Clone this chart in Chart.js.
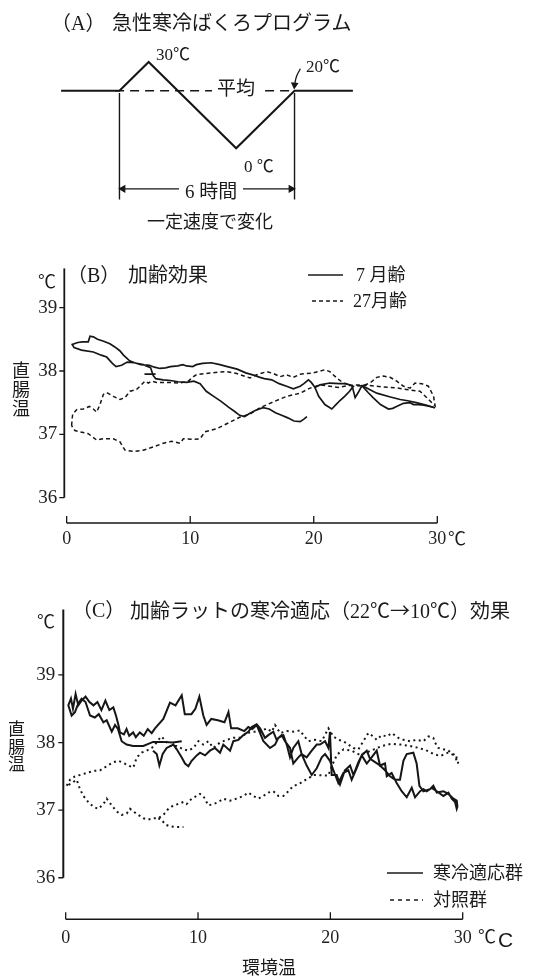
<!DOCTYPE html>
<html><head><meta charset="utf-8">
<script src="https://cdn.jsdelivr.net/npm/chart.js@4.4.1/dist/chart.umd.min.js"></script>
<style>
html,body{margin:0;padding:0;background:#fff;}
#page{position:relative;width:552px;height:976px;overflow:hidden;background:#fff;font-family:"Liberation Serif","Noto Sans CJK JP",serif;color:#1a1a1a;}
canvas{position:absolute;left:0;}
.t{position:absolute;white-space:nowrap;line-height:1;}
.j{font-family:"Noto Sans CJK JP",sans-serif;}
.bg{background:#fff;}
svg{position:absolute;}
</style></head><body><div id="page">
<canvas id="ca" width="552" height="240" style="top:0px"></canvas>
<canvas id="cb" width="552" height="320" style="top:250px"></canvas>
<canvas id="cc" width="552" height="386" style="top:590px"></canvas>

<!-- Panel A texts -->
<div class="t" style="left:51px;top:13px;font-size:20px">（A）</div>
<div class="t" style="left:112px;top:13px;font-size:20px">急性寒冷ばくろプログラム</div>
<div class="t" style="left:156px;top:44px;font-size:17px">30<span class="j">℃</span></div>
<div class="t" style="left:306px;top:56px;font-size:17px">20<span class="j">℃</span></div>
<div class="t" style="left:244px;top:156px;font-size:17px">0 <span class="j">℃</span></div>
<div class="t bg" style="left:212px;top:79px;font-size:19px;padding:0 5px">平均</div>
<div class="t bg" style="left:179px;top:182px;font-size:19px;padding:0 6px">6 時間</div>
<div class="t" style="left:147px;top:213px;font-size:18px">一定速度で変化</div>

<!-- Panel B texts -->
<div class="t" style="left:67px;top:265px;font-size:20px">（B）</div>
<div class="t" style="left:128px;top:265px;font-size:20px">加齢効果</div>
<div class="t j" style="left:38px;top:271px;font-size:18px">℃</div>
<div class="t" style="left:12px;top:362px;font-size:18px;line-height:18.75px">直<br>腸<br>温</div>
<svg style="left:300px;top:265px" width="50" height="45"><line x1="8" y1="10" x2="43" y2="10" stroke="#1a1a1a" stroke-width="1.5"/><line x1="12" y1="36" x2="43" y2="36" stroke="#1a1a1a" stroke-width="1.5" stroke-dasharray="4,3"/></svg>
<div class="t" style="left:356px;top:266px;font-size:18px">7 月齢</div>
<div class="t" style="left:353px;top:292px;font-size:18px">27月齢</div>
<div class="t j" style="left:448px;top:528px;font-size:18px">℃</div>

<!-- Panel C texts -->
<div class="t" style="left:72px;top:600px;font-size:20px">（C）</div>
<div class="t" style="left:130px;top:600px;font-size:20px">加齢ラットの寒冷適応（22<span class="j">℃→</span>10<span class="j">℃</span>）効果</div>
<div class="t j" style="left:37px;top:611px;font-size:18px">℃</div>
<div class="t" style="left:8px;top:721px;font-size:17px;line-height:17.5px">直<br>腸<br>温</div>
<svg style="left:380px;top:863px" width="50" height="45"><line x1="7" y1="10" x2="43" y2="10" stroke="#1a1a1a" stroke-width="1.5"/><line x1="10" y1="37" x2="43" y2="37" stroke="#1a1a1a" stroke-width="1.5" stroke-dasharray="4,4"/></svg>
<div class="t" style="left:433px;top:864px;font-size:18px">寒冷適応群</div>
<div class="t" style="left:433px;top:891px;font-size:18px">対照群</div>
<div class="t j" style="left:478px;top:926px;font-size:18px">℃</div>
<div class="t" style="left:498px;top:929px;font-size:21px;font-family:'Liberation Sans',sans-serif">C</div>
<div class="t" style="left:242px;top:959px;font-size:18px">環境温</div>
</div>
<script>
// ---------------- DATA ----------------
// Panel A: exposure program (hours, ambient temperature)
const progHours = [-2, 0, 1, 4, 6, 8];
const progTemp  = [20, 20, 30, 0, 20, 20];
const meanTemp = 20;
const exposureHours = [0, 6];

// Panel B: rectal temperature vs ambient temperature
const bXTicks = [0, 10, 20, 30];
const bYTicks = [36, 37, 38, 39];
const bYoungMain = [[29.8,37.42],[29.15,37.46],[28.3,37.5],[27.6,37.53],[27.0,37.55],[26.2,37.59],[25.1,37.65],[24.4,37.72],[23.9,37.77],[23.6,37.66],[23.35,37.58],[23.1,37.77],[22.6,37.8],[22.1,37.8],[21.3,37.81],[20.5,37.78],[20.1,37.74],[19.8,37.82],[19.57,37.86],[19.2,37.8],[18.9,37.76],[18.35,37.72],[17.8,37.76],[17.2,37.8],[16.6,37.86],[16.0,37.88],[15.65,37.9],[15.2,37.93],[14.5,37.97],[13.8,38.03],[13.0,38.07],[12.4,38.1],[11.7,38.13],[11.0,38.12],[10.5,38.1],[10.2,38.07],[9.7,38.08],[9.4,38.1],[9.0,38.08],[8.4,38.07],[8.0,38.05],[7.55,38.04],[7.1,38.06],[6.7,38.09],[6.0,38.1],[5.5,38.13],[5.1,38.16],[4.6,38.25],[4.3,38.32],[3.9,38.38],[3.5,38.43],[3.0,38.47],[2.5,38.5],[2.16,38.54],[1.89,38.55],[1.75,38.46],[1.3,38.46],[0.9,38.45],[0.45,38.42],[0.6,38.37],[1.2,38.33],[2.16,38.3],[2.8,38.25],[3.24,38.22],[3.7,38.12],[4.0,38.07],[4.45,38.09],[4.9,38.14],[5.45,38.13],[6.2,38.1],[6.8,38.05],[7.0,37.93],[7.2,37.88],[7.8,37.86],[8.4,37.85],[9.0,37.83],[9.7,37.82],[10.3,37.84],[10.8,37.8],[11.3,37.68],[11.9,37.6],[12.5,37.52],[13.1,37.43],[13.6,37.36],[14.0,37.3],[14.4,37.28],[14.8,37.33],[15.3,37.38],[15.9,37.42],[16.4,37.4],[16.9,37.34],[17.4,37.3],[17.9,37.26],[18.4,37.21],[18.9,37.2],[19.2,37.24],[19.45,37.28]];
const bYoungStub = [[6.3,37.95],[7.2,37.95]];
const bYoungRightA = [[20.1,37.74],[20.4,37.6],[20.9,37.47],[21.46,37.4],[21.8,37.47],[22.1,37.53],[22.5,37.6],[22.9,37.68],[23.2,37.76]];
const bYoungRightB = [[23.9,37.77],[24.4,37.66],[24.8,37.58],[25.4,37.47],[26.05,37.4],[26.4,37.41],[26.7,37.44],[27.26,37.49],[27.8,37.5],[28.07,37.47],[28.5,37.47],[28.9,37.46],[29.4,37.44],[29.8,37.42]];
const bOld = [[0.4,37.14],[0.45,37.25],[0.49,37.32],[0.81,37.39],[1.35,37.4],[1.84,37.44],[2.16,37.4],[2.43,37.35],[2.7,37.47],[2.97,37.63],[3.24,37.66],[3.78,37.6],[4.32,37.55],[4.72,37.58],[5.13,37.68],[5.67,37.71],[5.94,37.76],[6.34,37.84],[6.61,37.81],[6.88,37.84],[7.29,37.82],[8.1,37.82],[9.18,37.81],[9.85,37.84],[10.26,37.91],[10.5,37.94],[11.6,37.97],[12.96,37.99],[13.77,37.96],[14.84,37.89],[15.38,37.94],[16.2,37.99],[16.73,37.96],[17.27,37.91],[17.8,37.94],[18.35,37.9],[18.9,37.95],[19.97,37.97],[20.9,38.02],[21.3,37.99],[21.86,37.89],[22.4,37.81],[23.2,37.76],[24.0,37.77],[24.56,37.81],[25.1,37.9],[25.64,37.92],[26.18,37.9],[26.72,37.84],[27.26,37.76],[27.8,37.73],[28.2,37.81],[28.74,37.8],[29.28,37.76],[29.7,37.6],[29.82,37.45],[29.3,37.55],[28.6,37.68],[27.8,37.7],[26.8,37.73],[25.6,37.75],[24.5,37.77],[23.6,37.78],[22.8,37.77],[22.0,37.74],[21.3,37.76],[20.5,37.78],[19.7,37.73],[18.9,37.65],[17.8,37.6],[16.7,37.51],[15.65,37.42],[14.84,37.32],[14.0,37.27],[13.2,37.19],[12.15,37.09],[11.2,37.04],[10.8,36.93],[10.26,36.92],[9.45,36.93],[9.18,36.86],[8.5,36.89],[7.83,36.86],[7.0,36.8],[6.2,36.75],[5.4,36.73],[4.72,36.75],[4.32,36.88],[3.78,36.93],[2.97,36.93],[2.43,36.91],[1.75,37.01],[1.08,37.04],[0.67,37.06],[0.4,37.14]];

// Panel C: cold-acclimated vs control aged rats
const cXTicks = [0, 10, 20, 30];
const cYTicks = [36, 37, 38, 39];
const cAdapted = [[6.6,37.88],[6.88,37.83],[7.08,37.66],[7.33,37.83],[7.63,37.92],[8.14,37.97],[8.39,37.9],[8.77,37.78],[9.02,37.69],[9.27,37.65],[9.52,37.73],[9.9,37.81],[10.15,37.85],[10.53,37.81],[10.9,37.88],[11.28,37.92],[11.66,37.85],[11.91,37.97],[12.42,37.88],[12.67,38.02],[13.05,38.04],[13.43,38.11],[13.8,38.16],[14.06,38.23],[14.43,38.27],[14.69,38.21],[15.06,38.07],[15.31,38.11],[15.69,38.16],[15.94,38.04],[16.32,38.11],[16.57,38.02],[16.95,37.92],[17.2,37.69],[17.58,37.78],[17.83,37.83],[18.21,37.66],[18.59,37.52],[18.97,37.62],[19.35,37.78],[19.6,37.83],[19.97,37.73],[20.23,37.59],[20.6,37.4],[20.98,37.55],[21.36,37.59],[21.61,37.45],[21.99,37.62],[22.37,37.81],[22.75,37.88],[23.0,37.76],[23.38,37.71],[23.75,37.66],[24.13,37.59],[24.51,37.5],[24.89,37.45],[25.26,37.45],[25.52,37.73],[25.77,37.83],[26.27,37.85],[26.52,37.69],[26.73,37.36],[27.03,37.28],[27.53,37.31],[27.78,37.36],[28.04,37.26],[28.54,37.28],[28.92,37.24],[29.3,37.17],[29.55,37.14],[29.6,37.05],[29.55,37.02],[29.42,37.12],[29.17,37.17],[28.92,37.26],[28.54,37.21],[28.04,37.28],[27.66,37.33],[27.28,37.28],[27.03,37.31],[26.78,37.28],[26.4,37.19],[26.15,37.33],[25.77,37.19],[25.39,37.28],[25.01,37.4],[24.63,37.55],[24.26,37.5],[24.13,37.69],[23.75,37.66],[23.5,37.88],[23.12,37.78],[22.75,37.69],[22.37,37.81],[22.12,37.71],[21.74,37.52],[21.49,37.66],[21.1,37.59],[20.73,37.38],[20.48,37.52],[20.1,37.52],[19.97,38.16],[19.85,37.92],[19.6,38.02],[19.22,37.97],[18.97,37.97],[18.59,37.88],[18.21,37.78],[17.83,37.83],[17.58,38.02],[17.2,37.92],[16.95,37.78],[16.7,37.97],[16.45,38.11],[16.07,38.07],[15.82,37.97],[15.44,37.92],[14.94,38.02],[14.43,38.26],[14.1,38.2],[13.8,38.23],[13.5,38.17],[13.0,38.21],[12.5,38.21],[12.3,38.45],[12.0,38.3],[11.5,38.33],[11.0,38.35],[10.65,38.26],[10.4,38.4],[10.1,38.68],[9.8,38.5],[9.5,38.42],[9.0,38.42],[8.77,38.7],[8.3,38.55],[7.88,38.59],[7.38,38.35],[6.75,38.21],[6.5,38.14],[6.2,38.2],[5.9,38.1],[5.6,38.15],[5.3,38.08],[5.1,38.15],[4.8,38.1],[4.6,38.2],[4.4,38.12],[4.1,38.15],[4.0,38.25],[3.8,38.4],[3.6,38.52],[3.3,38.48],[3.0,38.62],[2.7,38.48],[2.4,38.6],[2.1,38.55],[1.8,38.6],[1.5,38.68],[1.2,38.62],[0.95,38.55],[0.75,38.72],[0.55,38.5],[0.4,38.65],[0.2,38.55],[0.45,38.4],[0.7,38.45],[0.95,38.58],[1.2,38.65],[1.5,38.6],[1.84,38.4],[2.2,38.37],[2.5,38.42],[2.85,38.3],[3.1,38.33],[3.48,38.16],[3.73,38.26],[3.95,38.2],[4.23,38.02],[4.6,37.97],[5.1,37.95],[5.87,37.95],[6.6,38.01],[7.3,38.01],[8.1,38.0],[8.77,38.02]];
const cControl = [[0.08,37.36],[0.33,37.45],[0.7,37.5],[1.08,37.52],[1.59,37.55],[2.09,37.58],[2.6,37.59],[3.1,37.65],[3.6,37.71],[3.98,37.73],[4.36,37.7],[4.74,37.66],[5.11,37.63],[5.37,37.78],[5.74,37.85],[6.12,37.88],[6.5,37.92],[6.75,37.97],[7.0,38.04],[7.25,38.09],[7.88,37.95],[8.39,37.95],[8.89,37.9],[9.27,37.88],[9.65,37.92],[10.03,38.02],[10.4,37.97],[10.78,38.02],[11.16,37.92],[11.66,38.0],[12.17,38.04],[12.67,38.07],[13.17,38.07],[13.68,38.14],[14.18,38.16],[14.69,38.16],[15.19,38.21],[15.57,38.16],[15.82,38.26],[16.2,38.14],[16.7,38.17],[17.2,38.16],[17.71,38.18],[17.96,38.11],[18.34,38.02],[18.84,38.04],[19.35,38.02],[19.85,38.21],[20.23,38.09],[20.6,38.04],[20.98,38.02],[21.36,37.97],[21.74,37.92],[22.12,37.9],[22.49,38.02],[22.87,38.14],[23.25,38.09],[23.5,38.04],[23.88,38.11],[24.26,38.09],[24.64,38.14],[25.14,38.07],[25.52,38.04],[26.02,38.02],[26.52,38.04],[27.03,38.02],[27.41,38.09],[27.78,38.07],[27.91,38.0],[28.16,37.92],[28.54,37.9],[28.92,37.88],[29.3,37.83],[29.67,37.69],[29.5,37.8],[28.9,37.85],[28.3,37.8],[27.8,37.83],[27.3,37.88],[26.7,37.92],[26.0,37.95],[25.3,37.97],[24.6,37.98],[23.9,37.95],[23.3,37.9],[22.7,37.85],[22.2,37.82],[21.6,37.88],[21.0,37.9],[20.5,37.82],[20.1,37.65],[19.85,37.51],[18.72,37.52],[18.34,37.47],[17.96,37.43],[17.58,37.38],[17.2,37.36],[16.83,37.28],[16.45,37.21],[16.07,37.21],[15.69,37.28],[15.31,37.26],[14.94,37.21],[14.56,37.17],[14.18,37.21],[13.8,37.26],[13.43,37.21],[12.92,37.17],[12.42,37.14],[11.91,37.17],[11.54,37.12],[11.16,37.09],[10.78,37.07],[10.4,37.21],[10.15,37.24],[9.9,37.21],[9.52,37.17],[9.14,37.09],[8.89,37.12],[8.51,37.09],[8.14,37.07],[7.76,37.02],[7.38,36.93],[7.0,36.88],[6.62,36.88],[6.25,36.86],[5.87,36.88],[5.49,36.93],[5.11,36.98],[4.86,37.02],[4.61,36.95],[4.23,36.93],[3.85,36.98],[3.48,37.07],[3.1,37.17],[2.85,37.09],[2.47,37.02],[2.09,37.05],[1.71,37.12],[1.34,37.21],[1.08,37.31],[0.83,37.45],[0.45,37.4],[0.08,37.36]];
const cControlTail = [[7.0,36.88],[7.25,36.86],[7.5,36.79],[7.88,36.76],[8.26,36.75],[8.9,36.75]];

// ---------------- DRAWING ----------------
const INK = '#161616';
const pts = a => a.map(([x, y]) => ({x, y}));
function line(points, extra) {
  return Object.assign({data: pts(points), showLine: true, borderColor: INK, backgroundColor: INK,
    borderWidth: 1.6, pointRadius: 0, pointHoverRadius: 0, fill: false, tension: 0}, extra || {});
}

const axesPlugin = {
  id: 'axesDraw',
  afterDraw(chart, args, o) {
    if (!o || !o.on) return;
    const {ctx, chartArea, scales: {x, y}} = chart;
    ctx.save();
    ctx.strokeStyle = INK;
    ctx.lineCap = 'butt';
    const xl = chartArea.left;
    ctx.lineWidth = o.yWidth;
    ctx.beginPath();
    ctx.moveTo(xl, chartArea.top);
    ctx.lineTo(xl, y.getPixelForValue(o.yTicks[0]));
    ctx.stroke();
    ctx.lineWidth = 1.3;
    ctx.beginPath();
    for (const v of o.yTicks) { const p = y.getPixelForValue(v); ctx.moveTo(xl - 5, p); ctx.lineTo(xl, p); }
    ctx.stroke();
    const yb = chartArea.bottom;
    ctx.lineWidth = o.xWidth;
    ctx.beginPath();
    ctx.moveTo(x.getPixelForValue(o.xTicks[0]), yb);
    ctx.lineTo(x.getPixelForValue(o.xTicks[o.xTicks.length - 1]), yb);
    ctx.stroke();
    ctx.lineWidth = 1.3;
    ctx.beginPath();
    for (const v of o.xTicks) { const p = x.getPixelForValue(v); ctx.moveTo(p, yb); ctx.lineTo(p, yb - 7); }
    ctx.stroke();
    ctx.restore();
  }
};

// Panel A
(function () {
  const L = {xmin: -3.93, xmax: 14.66, ymin: -30.17, ymax: 49.83, vTop: 19.2, vBottom: -17.8, arrowY: -14.07};
  const prog = progHours.map((h, i) => [h, progTemp[i]]);
  new Chart(document.getElementById('ca'), {
    type: 'scatter',
    data: {datasets: [
      line(prog, {borderWidth: 2.1}),
      line([[-0.15, meanTemp], [exposureHours[1], meanTemp]], {borderWidth: 1.4, borderDash: [9, 6]}),
      line([[exposureHours[0], L.vTop], [exposureHours[0], L.vBottom]], {borderWidth: 1.4}),
      line([[exposureHours[1], L.vTop], [exposureHours[1], L.vBottom]], {borderWidth: 1.4}),
      line([[exposureHours[0] + 0.12, L.arrowY], [exposureHours[1] - 0.12, L.arrowY]],
        {borderWidth: 1.3, pointStyle: 'triangle', pointRadius: 3.5, pointRotation: [-90, 90]}),
      line([[6.2, 27.6], [6.07, 25.0], [6.0, 22.0]],
        {borderWidth: 1.3, tension: 0.4, pointStyle: 'triangle', pointRadius: [0, 0, 3.2], pointRotation: [0, 0, 185]})
    ]},
    options: {
      responsive: false, animation: false, devicePixelRatio: 1,
      layout: {padding: 0},
      plugins: {legend: {display: false}, tooltip: {enabled: false}},
      scales: {
        x: {type: 'linear', display: false, min: L.xmin, max: L.xmax},
        y: {type: 'linear', display: false, min: L.ymin, max: L.ymax}
      }
    }
  });
})();

function panel(id, datasets, cfg) {
  return new Chart(document.getElementById(id), {
    type: 'scatter',
    data: {datasets},
    options: {
      responsive: false, animation: false, devicePixelRatio: 1,
      layout: {padding: {top: cfg.top, right: cfg.right, left: 0, bottom: 0}},
      plugins: {legend: {display: false}, tooltip: {enabled: false},
        axesDraw: {on: true, xTicks: cfg.xTicks, yTicks: cfg.yTicks, yWidth: cfg.yWidth, xWidth: cfg.xWidth}},
      scales: {
        x: {type: 'linear', min: cfg.xmin, max: 30, grid: {display: false, drawTicks: false}, border: {display: false},
          ticks: {font: {family: 'Liberation Serif', size: 18}, color: '#222', padding: cfg.xPad, maxRotation: 0, autoSkip: false},
          afterBuildTicks: s => { s.ticks = cfg.xTicks.map(v => ({value: v})); },
          afterFit: s => { s.height = cfg.xH; }},
        y: {type: 'linear', min: cfg.ymin, max: cfg.ymax, grid: {display: false, drawTicks: false}, border: {display: false},
          ticks: {font: {family: 'Liberation Serif', size: 19}, color: '#222', padding: cfg.yPad, autoSkip: false},
          afterBuildTicks: s => { s.ticks = cfg.yTicks.map(v => ({value: v})); },
          afterFit: s => { s.width = cfg.yW; }}
      }
    },
    plugins: [axesPlugin]
  });
}

// Panel B
panel('cb', [
  line(bYoungMain, {borderWidth: 1.7}),
  line(bYoungStub, {borderWidth: 1.7}),
  line(bYoungRightA, {borderWidth: 1.7}),
  line(bYoungRightB, {borderWidth: 1.7}),
  line(bOld, {borderWidth: 1.5, borderDash: [4, 3]})
], {top: 13, right: 114.7, xmin: -0.19, ymin: 35.6, ymax: 39.62, xH: 47, yW: 64.3, xPad: 5, yPad: 7,
    xTicks: bXTicks, yTicks: bYTicks, yWidth: 1.8, xWidth: 1.5});

// Panel C
panel('cc', [
  line(cAdapted, {borderWidth: 2}),
  line(cControl, {borderWidth: 2, borderDash: [2, 3.5]}),
  line(cControlTail, {borderWidth: 2, borderDash: [2, 3.5]})
], {top: 11.7, right: 89.3, xmin: -0.18, ymin: 35.385, ymax: 39.97, xH: 56.7, yW: 63.3, xPad: 8, yPad: 8,
    xTicks: cXTicks, yTicks: cYTicks, yWidth: 2, xWidth: 1.6});
</script>
</body></html>
